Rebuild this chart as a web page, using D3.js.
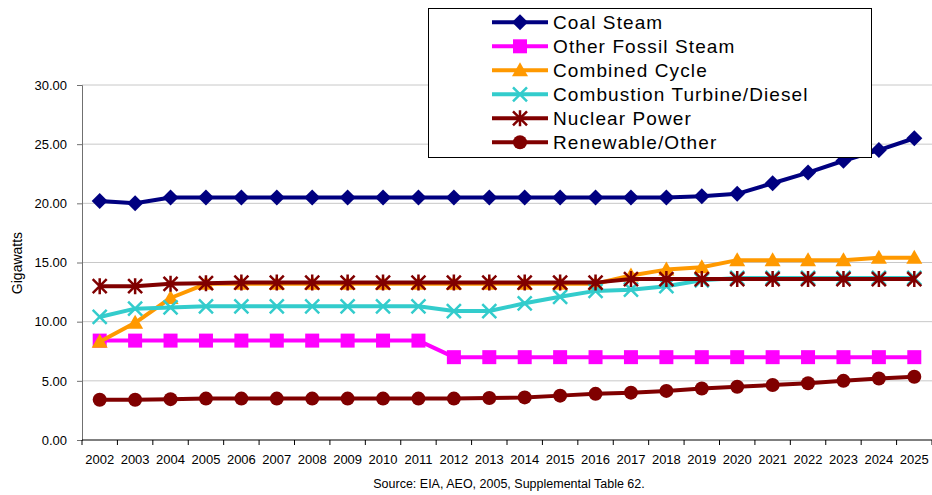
<!DOCTYPE html>
<html>
<head>
<meta charset="utf-8">
<script src="https://cdn.jsdelivr.net/npm/d3@7"></script>
<style>
  html, body { margin: 0; padding: 0; background: #fff; }
  svg { display: block; font-family: "Liberation Sans", Arial, sans-serif; }
</style>
</head>
<body>
<svg id="chart" width="932" height="495"></svg>
<script>
const years = ["2002","2003","2004","2005","2006","2007","2008","2009","2010","2011","2012","2013","2014","2015","2016","2017","2018","2019","2020","2021","2022","2023","2024","2025"];
const yTicks = [0, 5, 10, 15, 20, 25, 30];

const coalSteam      = [20.2, 20.0, 20.5, 20.5, 20.5, 20.5, 20.5, 20.5, 20.5, 20.5, 20.5, 20.5, 20.5, 20.5, 20.5, 20.5, 20.5, 20.6, 20.8, 21.7, 22.6, 23.6, 24.5, 25.5];
const otherFossil    = [8.4, 8.4, 8.4, 8.4, 8.4, 8.4, 8.4, 8.4, 8.4, 8.4, 7.0, 7.0, 7.0, 7.0, 7.0, 7.0, 7.0, 7.0, 7.0, 7.0, 7.0, 7.0, 7.0, 7.0];
const combinedCycle  = [8.3, 9.9, 12.0, 13.2, 13.2, 13.2, 13.2, 13.2, 13.2, 13.2, 13.2, 13.2, 13.2, 13.2, 13.2, 13.9, 14.4, 14.6, 15.2, 15.2, 15.2, 15.2, 15.4, 15.4];
const combustionTD   = [10.4, 11.1, 11.2, 11.3, 11.3, 11.3, 11.3, 11.3, 11.3, 11.3, 10.9, 10.9, 11.55, 12.1, 12.6, 12.7, 13.0, 13.5, 13.7, 13.7, 13.7, 13.7, 13.7, 13.7];
const nuclearPower   = [13.0, 13.0, 13.2, 13.25, 13.3, 13.3, 13.3, 13.3, 13.3, 13.3, 13.3, 13.3, 13.3, 13.3, 13.3, 13.6, 13.6, 13.6, 13.6, 13.6, 13.6, 13.6, 13.6, 13.6];
const renewableOther = [3.4, 3.4, 3.45, 3.5, 3.5, 3.5, 3.5, 3.5, 3.5, 3.5, 3.5, 3.55, 3.6, 3.75, 3.9, 4.0, 4.15, 4.35, 4.5, 4.65, 4.8, 5.0, 5.2, 5.35];

const seriesNames  = ["Coal Steam", "Other Fossil Steam", "Combined Cycle", "Combustion Turbine/Diesel", "Nuclear Power", "Renewable/Other"];
const seriesColors = ["#000080", "#FF00FF", "#FF9900", "#33CCCC", "#800000", "#800000"];
const seriesMarkers = ["diamond", "square", "triangle", "x", "star", "circle"];
const seriesValues = [coalSteam, otherFossil, combinedCycle, combustionTD, nuclearPower, renewableOther];

const yAxisTitle = "Gigawatts";
const sourceNote = "Source: EIA, AEO, 2005, Supplemental Table 62.";

const svg = d3.select("#chart");
const plotLeft = 82, plotRight = 932, plotTop = 85, plotBottom = 440;

const x = d3.scaleBand().domain(years).range([plotLeft, plotRight]).padding(0);
const y = d3.scaleLinear().domain([0, 30]).range([plotBottom, plotTop]);
const cx = d => x(d) + x.bandwidth() / 2;

// gridlines
svg.append("g").selectAll("line").data(yTicks.filter(d => d > 0)).join("line")
  .attr("x1", plotLeft).attr("x2", plotRight)
  .attr("y1", d => y(d)).attr("y2", d => y(d))
  .attr("stroke", "#c8c8c8").attr("stroke-width", 1);

// y axis
const yAxis = svg.append("g").attr("transform", `translate(${plotLeft},0)`)
  .call(d3.axisLeft(y).tickValues(yTicks).tickFormat(d3.format(".2f")).tickSize(5).tickPadding(10));
yAxis.select(".domain").attr("stroke", "#707070");
yAxis.selectAll(".tick line").attr("stroke", "#707070");
yAxis.selectAll("text").attr("font-size", 13).attr("fill", "#000").attr("font-family", "Liberation Sans, Arial, sans-serif");

// x axis line and ticks at category boundaries
svg.append("line").attr("x1", plotLeft).attr("x2", plotRight).attr("y1", plotBottom).attr("y2", plotBottom)
  .attr("stroke", "#000").attr("stroke-width", 1);
const boundaries = years.map(d => x(d)).concat([x.range()[1]]);
svg.append("g").selectAll("line").data(boundaries).join("line")
  .attr("x1", d => d).attr("x2", d => d).attr("y1", plotBottom).attr("y2", plotBottom + 5)
  .attr("stroke", "#000");
svg.append("g").selectAll("text").data(years).join("text")
  .attr("x", d => cx(d)).attr("y", 464).attr("text-anchor", "middle")
  .attr("font-size", 13).attr("fill", "#000").text(d => d);

// axis title
svg.append("text").attr("transform", "translate(22,263) rotate(-90)")
  .attr("text-anchor", "middle").attr("font-size", 14).text(yAxisTitle);

// source
svg.append("text").attr("x", 509).attr("y", 488).attr("text-anchor", "middle")
  .attr("font-size", 12.5).text(sourceNote);

function drawMarker(g, type, color) {
  if (type === "diamond") {
    g.append("path").attr("d", "M0,-8L8,0L0,8L-8,0Z").attr("fill", color);
  } else if (type === "square") {
    g.append("rect").attr("x", -7).attr("y", -7).attr("width", 14).attr("height", 14).attr("fill", color);
  } else if (type === "triangle") {
    g.append("path").attr("d", "M0,-8L8,6L-8,6Z").attr("fill", color);
  } else if (type === "x") {
    g.append("path").attr("d", "M-7,-7L7,7M-7,7L7,-7").attr("stroke", color).attr("stroke-width", 2.5).attr("fill", "none");
  } else if (type === "star") {
    g.append("path").attr("d", "M-7,-7L7,7M-7,7L7,-7M0,-8L0,8").attr("stroke", color).attr("stroke-width", 2.5).attr("fill", "none");
  } else if (type === "circle") {
    g.append("circle").attr("r", 7).attr("fill", color);
  }
}

const line = d3.line().x(d => cx(d.year)).y(d => y(d.value));

seriesValues.forEach((vals, i) => {
  const pts = years.map((yr, j) => ({ year: yr, value: vals[j] }));
  const g = svg.append("g");
  g.append("path").datum(pts).attr("d", line)
    .attr("fill", "none").attr("stroke", seriesColors[i]).attr("stroke-width", 4)
    .attr("stroke-linejoin", "round");
  pts.forEach(p => {
    const m = g.append("g").attr("transform", `translate(${cx(p.year)},${y(p.value)})`);
    drawMarker(m, seriesMarkers[i], seriesColors[i]);
  });
});

// legend
const lg = svg.append("g");
lg.append("rect").attr("x", 428.5).attr("y", 8.5).attr("width", 443).attr("height", 149)
  .attr("fill", "#fff").attr("stroke", "#000").attr("stroke-width", 1);
seriesNames.forEach((name, i) => {
  const ry = 22.3 + i * 24;
  lg.append("line").attr("x1", 492).attr("x2", 548).attr("y1", ry).attr("y2", ry)
    .attr("stroke", seriesColors[i]).attr("stroke-width", 4);
  const m = lg.append("g").attr("transform", `translate(520,${ry})`);
  drawMarker(m, seriesMarkers[i], seriesColors[i]);
  lg.append("text").attr("x", 553).attr("y", ry).attr("dy", "0.36em")
    .attr("font-size", 19).attr("letter-spacing", 1.1).text(name);
});
</script>
</body>
</html>
